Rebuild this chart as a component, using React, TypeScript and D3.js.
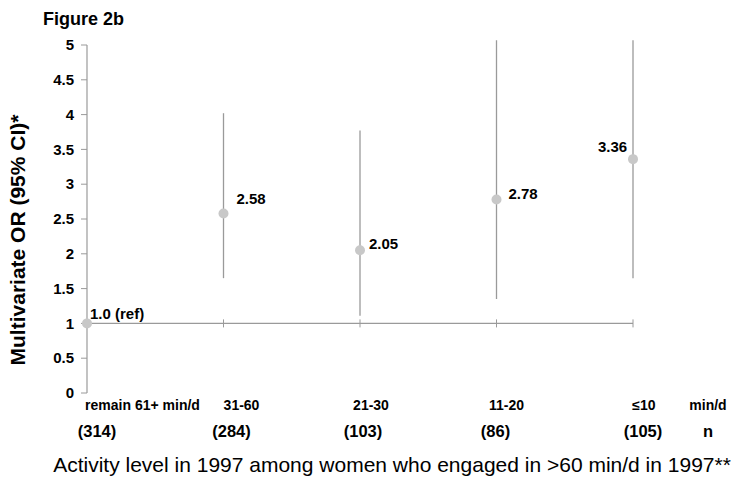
import React from "react";
import * as d3 from "d3";

const categories = ["remain 61+ min/d", "31-60", "21-30", "11-20", "≤10"];
const nLabels = ["(314)", "(284)", "(103)", "(86)", "(105)"];
const orValues = [1.0, 2.58, 2.05, 2.78, 3.36];
const ciLow = [null, 1.65, 1.11, 1.35, 1.65];
const ciHigh = [null, 4.02, 3.77, 5.07, 5.07];
const pointLabels = ["1.0 (ref)", "2.58", "2.05", "2.78", "3.36"];
const yTicks = [0, 0.5, 1, 1.5, 2, 2.5, 3, 3.5, 4, 4.5, 5];

// layout offsets for labels (relative to the category position)
const catLabelDx = [55.5, 18, 11, 10, 11];
const nLabelDx = [10, 8, 3, -1, 10];
const ptLabelDx = [3, 13, 9, 12, -35];
const ptLabelDy = [-10, -15, -7, -6, -12];

export default function App() {
  const W = 736, H = 482;
  const x = d3.scalePoint<string>().domain(categories).range([87, 633]);
  const y = d3.scaleLinear().domain([0, 5]).range([393, 45]);
  const font = "Arial, 'Liberation Sans', Helvetica, sans-serif";
  const gray = "#9a9a9a";
  const last = categories[categories.length - 1];

  return (
    <svg width={W} height={H} style={{ position: "absolute", left: 0, top: 0, background: "#fff" }} fontFamily={font}>
      <text x={43} y={25} fontSize={18} fontWeight="bold">Figure 2b</text>
      {/* y axis */}
      <line x1={87} x2={87} y1={y(0)} y2={y(5)} stroke={gray} strokeWidth={1.2} />
      {yTicks.map((t) => (
        <g key={t}>
          <line x1={81} x2={87} y1={y(t)} y2={y(t)} stroke={gray} strokeWidth={1} />
          <text x={74} y={y(t)} dy="0.35em" textAnchor="end" fontSize={15} fontWeight="bold">{t}</text>
        </g>
      ))}
      <text transform={`translate(25,240) rotate(-90)`} textAnchor="middle" fontSize={21} fontWeight="bold">
        Multivariate OR (95% CI)*
      </text>
      {/* reference line at OR = 1 */}
      <line x1={x(categories[0])!} x2={x(last)!} y1={y(1)} y2={y(1)} stroke={gray} strokeWidth={1.2} />
      {categories.slice(1).map((c) => (
        <line key={c} x1={x(c)!} x2={x(c)!} y1={y(1) - 4} y2={y(1) + 4} stroke={gray} strokeWidth={1} />
      ))}
      {/* CIs */}
      {categories.map((c, i) =>
        ciLow[i] != null ? (
          <line key={c} x1={x(c)!} x2={x(c)!} y1={y(ciLow[i] as number)} y2={y(ciHigh[i] as number)} stroke={gray} strokeWidth={1.3} />
        ) : null
      )}
      {categories.map((c, i) => (
        <circle key={c} cx={x(c)!} cy={y(orValues[i])} r={5} fill="#c8c8c8" />
      ))}
      {categories.map((c, i) => (
        <text key={c} x={x(c)! + ptLabelDx[i]} y={y(orValues[i]) + ptLabelDy[i]} dy="0.35em" fontSize={15} fontWeight="bold">
          {pointLabels[i]}
        </text>
      ))}
      {/* category labels */}
      {categories.map((c, i) => (
        <text key={c} x={x(c)! + catLabelDx[i]} y={410} textAnchor="middle" fontSize={14} fontWeight="bold">{c}</text>
      ))}
      <text x={708} y={410} textAnchor="middle" fontSize={14} fontWeight="bold">min/d</text>
      {categories.map((c, i) => (
        <text key={c} x={x(c)! + nLabelDx[i]} y={437} textAnchor="middle" fontSize={16.5} fontWeight="bold">{nLabels[i]}</text>
      ))}
      <text x={708} y={437} textAnchor="middle" fontSize={16.5} fontWeight="bold">n</text>
      <text x={392} y={472} textAnchor="middle" fontSize={21}>
        Activity level in 1997 among women who engaged in &gt;60 min/d in 1997**
      </text>
    </svg>
  );
}
